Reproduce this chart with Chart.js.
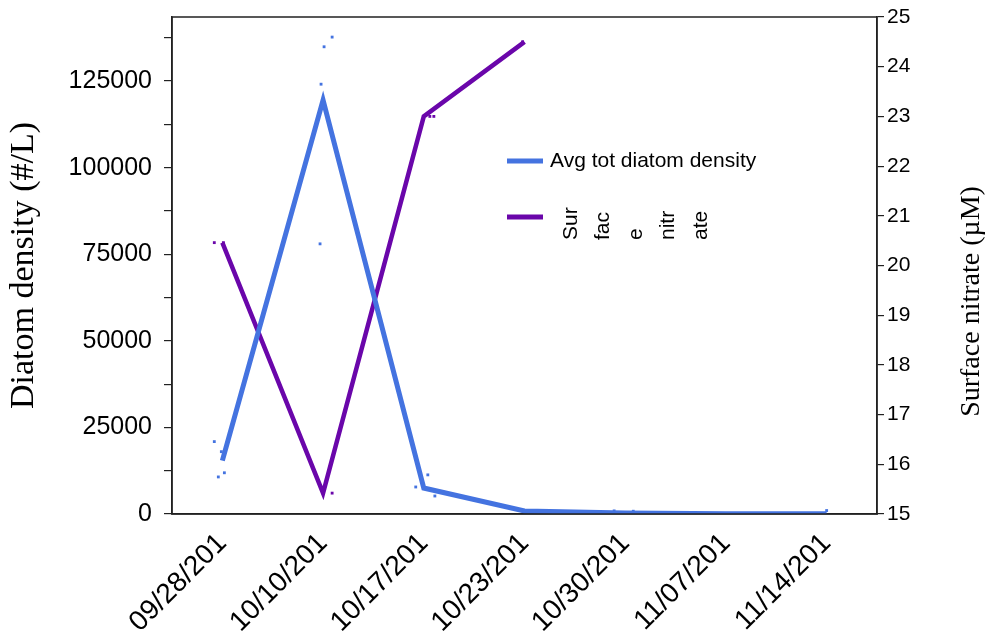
<!DOCTYPE html>
<html>
<head>
<meta charset="utf-8">
<script src="https://cdn.jsdelivr.net/npm/chart.js@4/dist/chart.umd.min.js"></script>
<style>
  html, body { margin: 0; padding: 0; background: #fff; }
  #wrap { width: 988px; height: 639px; }
</style>
</head>
<body>
<div id="wrap"><canvas id="diatomChart"></canvas></div>
<script>
// Sampling dates (labels are cut off at 9 characters)
const dates = ['09/28/201', '10/10/201', '10/17/201', '10/23/201', '10/30/201', '11/07/201', '11/14/201'];

// Mean total diatom density (#/L) per date
const diatomAvg = [15400, 119500, 7500, 900, 300, 100, 100];

// Surface nitrate (uM), only the first four dates were sampled
const nitrate = [20.46, 15.42, 23.0, 24.5];

// Replicate counts (x = date index with a small jitter)
const diatomReps = [
    { x: -0.08, y: 20900 }, { x: -0.01, y: 18000 }, { x: -0.04, y: 10700 }, { x: 0.02, y: 11900 },
    { x: 0.97, y: 78000 }, { x: 0.98, y: 124100 }, { x: 1.01, y: 134900 }, { x: 1.09, y: 137700 },
    { x: 1.92, y: 7800 }, { x: 2.04, y: 11300 }, { x: 2.11, y: 5200 },
    { x: 3.89, y: 900 }, { x: 4.08, y: 800 }, { x: 6.0, y: 1000 }
];
const nitrateReps = [
    { x: -0.08, y: 20.46 }, { x: 0.01, y: 20.46 },
    { x: 1.09, y: 15.42 },
    { x: 2.06, y: 23.0 }, { x: 2.1, y: 23.0 },
    { x: 2.98, y: 24.5 }
];

const legendItems = ['Avg tot diatom density', 'Surface nitrate'];
// the nitrate legend entry wraps into narrow rotated pieces
const nitrateLegendPieces = ['Sur', 'fac', 'e', 'nitr', 'ate'];
const rightTitle = 'Surface nitrate (\u00b5M)';

const BLUE = '#4473e0';
const PURPLE = '#6a06aa';
const SANS = "'Liberation Sans', Arial, sans-serif";
const SERIF = "'Liberation Serif', 'Times New Roman', serif";

// fixed axis boxes so the plot area doesn't move with label sizes
function fixBox(size) {
    return (scale) => {
        if (scale.isHorizontal()) {
            scale.height = size;
            scale.paddingLeft = 0;
            scale.paddingRight = 0;
        } else {
            scale.width = size;
            scale.paddingTop = 0;
            scale.paddingBottom = 0;
        }
    };
}

// frame around the plot area, the custom legend and the right axis title
const framePlugin = {
    id: 'frameAndLegend',
    afterDatasetsDraw(chart) {
        const { ctx, chartArea: a } = chart;
        ctx.save();
        ctx.strokeStyle = '#222';
        ctx.lineWidth = 1.5;
        ctx.strokeRect(a.left, a.top, a.right - a.left, a.bottom - a.top);

        // blue entry
        ctx.lineWidth = 5;
        ctx.strokeStyle = BLUE;
        ctx.beginPath();
        ctx.moveTo(507, 161);
        ctx.lineTo(543, 161);
        ctx.stroke();
        ctx.fillStyle = '#000';
        ctx.font = '21px ' + SANS;
        ctx.textBaseline = 'middle';
        ctx.textAlign = 'left';
        ctx.fillText(legendItems[0], 550, 161);

        // purple entry
        ctx.strokeStyle = PURPLE;
        ctx.beginPath();
        ctx.moveTo(507, 217);
        ctx.lineTo(543, 217);
        ctx.stroke();
        nitrateLegendPieces.forEach((piece, i) => {
            ctx.save();
            ctx.translate(571 + i * 32.5, 240);
            ctx.rotate(-Math.PI / 2);
            ctx.fillText(piece, 0, 0);
            ctx.restore();
        });

        // right axis title, reading bottom to top
        ctx.save();
        ctx.font = '28px ' + SERIF;
        ctx.textAlign = 'center';
        ctx.translate(972, (a.top + a.bottom) / 2 + 36);
        ctx.rotate(-Math.PI / 2);
        ctx.fillText(rightTitle, 0, 0);
        ctx.restore();
        ctx.restore();
    }
};

const ctx = document.getElementById('diatomChart').getContext('2d');
new Chart(ctx, {
    type: 'line',
    data: {
        datasets: [
            {
                label: legendItems[0],
                data: diatomAvg.map((v, i) => ({ x: i, y: v })),
                borderColor: BLUE,
                borderWidth: 5,
                pointRadius: 0,
                tension: 0,
                yAxisID: 'y'
            },
            {
                label: legendItems[1],
                data: nitrate.map((v, i) => ({ x: i, y: v })),
                borderColor: PURPLE,
                borderWidth: 4.5,
                pointRadius: 0,
                tension: 0,
                yAxisID: 'y1'
            },
            {
                type: 'scatter',
                data: diatomReps,
                pointStyle: 'rect',
                pointRadius: 2,
                borderWidth: 0,
                backgroundColor: BLUE,
                showLine: false,
                yAxisID: 'y'
            },
            {
                type: 'scatter',
                data: nitrateReps,
                pointStyle: 'rect',
                pointRadius: 2,
                borderWidth: 0,
                backgroundColor: PURPLE,
                showLine: false,
                yAxisID: 'y1'
            }
        ]
    },
    options: {
        responsive: true,
        maintainAspectRatio: false,
        animation: false,
        layout: { padding: { top: 17, left: 0, right: 0, bottom: 0 } },
        plugins: {
            legend: { display: false },
            tooltip: { enabled: false }
        },
        scales: {
            x: {
                type: 'linear',
                min: -0.5,
                max: 6.5,
                afterBuildTicks: (scale) => {
                    scale.ticks = dates.map((_, i) => ({ value: i }));
                },
                afterFit: fixBox(125),
                grid: { display: false },
                border: { color: '#222', width: 1.5 },
                ticks: {
                    autoSkip: false,
                    minRotation: 45,
                    maxRotation: 45,
                    padding: 5,
                    color: '#000',
                    font: { family: SANS, size: 28 },
                    callback: (v) => dates[v]
                }
            },
            y: {
                position: 'left',
                min: 0,
                max: 143500,
                // major ticks every 25000, minor ticks halfway between
                afterBuildTicks: (scale) => {
                    const ticks = [];
                    for (let v = 0; v <= scale.max; v += 12500) ticks.push({ value: v });
                    scale.ticks = ticks;
                },
                afterFit: fixBox(172),
                grid: {
                    drawOnChartArea: false,
                    tickLength: 8,
                    color: '#222',
                    lineWidth: 1.2
                },
                border: { color: '#222', width: 1.5 },
                ticks: {
                    autoSkip: false,
                    padding: 12,
                    color: '#000',
                    font: { family: SANS, size: 25 },
                    callback: (v) => (v % 25000 === 0 ? String(v) : '')
                },
                title: {
                    display: true,
                    text: 'Diatom density (#/L)',
                    color: '#000',
                    font: { family: SERIF, size: 34 },
                    padding: { top: 4, bottom: 0 }
                }
            },
            y1: {
                position: 'right',
                min: 15,
                max: 25,
                afterFit: fixBox(111),
                grid: {
                    drawOnChartArea: false,
                    tickLength: 7,
                    color: '#222',
                    lineWidth: 1.2
                },
                border: { color: '#222', width: 1.5 },
                ticks: {
                    stepSize: 1,
                    padding: 3,
                    color: '#000',
                    font: { family: SANS, size: 21 }
                }
            }
        }
    },
    plugins: [framePlugin]
});
</script>
</body>
</html>
